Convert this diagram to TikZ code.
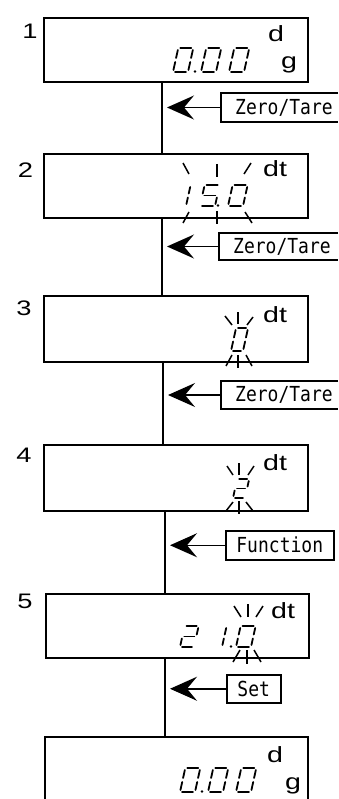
\documentclass[tikz,border=0pt]{standalone}
\usepackage{fontspec}
\setmainfont{Liberation Sans}
\newfontfamily\keyfont{DejaVu Sans Mono}
\usetikzlibrary{arrows.meta}
\newcommand\SSw{14}
\newcommand\SSh{23}
\newcommand\SSs{0.22}
\newcommand\SSline[6]{\draw[segl] ({#1+(#3)+\SSs*(#4)},{#2-(#4)}) -- ({#1+(#5)+\SSs*(#6)},{#2-(#6)});}
\newcommand\SSa[2]{\SSline{#1}{#2}{2}{\SSh}{\SSw-2}{\SSh}}
\newcommand\SSb[2]{\SSline{#1}{#2}{\SSw}{\SSh-2}{\SSw}{\SSh/2+2}}
\newcommand\SSc[2]{\SSline{#1}{#2}{\SSw}{\SSh/2-2}{\SSw}{2}}
\newcommand\SSd[2]{\SSline{#1}{#2}{2}{0}{\SSw-2}{0}}
\newcommand\SSe[2]{\SSline{#1}{#2}{0}{2}{0}{\SSh/2-2}}
\newcommand\SSf[2]{\SSline{#1}{#2}{0}{\SSh/2+2}{0}{\SSh-2}}
\newcommand\SSg[2]{\SSline{#1}{#2}{2}{\SSh/2}{\SSw-2}{\SSh/2}}
\newcommand\SSdigit[3]{\foreach \q in {#3}{\csname SS\q\endcsname{#1}{#2}}}
\newcommand\SSdot[2]{\fill (#1,#2) circle (1.4pt);}
\newcommand\KeyTxt[1]{\scalebox{1}[1.15]{#1}}
\newcommand\WideTxt[1]{\scalebox{1.3}[1]{#1}}
\tikzset{
  disp/.style={draw, line width=2.1pt, rectangle, inner sep=0pt, anchor=north west},
  conn/.style={line width=1.5pt},
  keytext/.style={inner ysep=0pt, font=\keyfont\fontsize{18}{18}\selectfont},
  keyline/.style={line width=1.5pt},
  arr/.style={line width=1.5pt, -{Stealth[length=27pt,width=24pt,inset=10pt]}},
  steplabel/.style={font=\fontsize{21}{21}\selectfont, inner sep=0pt},
  unit/.style={font=\fontsize{22}{22}\selectfont, inner sep=0pt, anchor=base west},
  segl/.style={line width=1.8pt, line cap=round},
  ray/.style={line width=1.5pt},
}
\begin{document}
\begin{tikzpicture}[x=1pt,y=-1pt]
\useasboundingbox (0,0) rectangle (338,799);
\fill[white] (0,0) rectangle (338,799);
% display boxes
\node[disp, minimum width=264pt, minimum height=64pt] (b1) at (43,17) {};
\node[disp, minimum width=264pt, minimum height=64pt] (b2) at (43,153) {};
\node[disp, minimum width=264pt, minimum height=66pt] (b3) at (43,295) {};
\node[disp, minimum width=264pt, minimum height=66pt] (b4) at (43,444) {};
\node[disp, minimum width=263pt, minimum height=64pt] (b5) at (45,593) {};
\node[inner sep=0pt, anchor=north west, minimum width=263pt, minimum height=62pt] (b6) at (45,737) {};
\draw[line width=2.1pt] (b6.south west) -- (b6.north west) -- (b6.north east) -- (b6.south east);
% step labels
\node[steplabel] (n1) at (30,31.5) {\WideTxt{1}};
\node[steplabel] (n2) at (25.5,170) {\WideTxt{2}};
\node[steplabel] (n3) at (24,308.5) {\WideTxt{3}};
\node[steplabel] (n4) at (24,455) {\WideTxt{4}};
\node[steplabel] (n5) at (25,601.5) {\WideTxt{5}};
% units
\node[unit] (u1) at (268,42) {\WideTxt{d}};
\node[unit] (g1) at (281,69) {\WideTxt{g}};
\node[unit] (u2) at (263,177) {\WideTxt{dt}};
\node[unit] (u3) at (263,322) {\WideTxt{dt}};
\node[unit] (u4) at (263,470) {\WideTxt{dt}};
\node[unit] (u5) at (271,618) {\WideTxt{dt}};
\node[unit] (u6) at (267,762) {\WideTxt{d}};
\node[unit] (g6) at (285,789) {\WideTxt{g}};
% connectors
\coordinate (c1) at (162,0);
\coordinate (c2) at (162,0);
\coordinate (c3) at (163,0);
\coordinate (c4) at (165,0);
\coordinate (c5) at (165,0);
\coordinate (edge) at (338,0);
\draw[conn] (b1.south -| c1) -- (b2.north -| c1);
\draw[conn] (b2.south -| c2) -- (b3.north -| c2);
\draw[conn] (b3.south -| c3) -- (b4.north -| c3);
\draw[conn] (b4.south -| c4) -- (b5.north -| c4);
\draw[conn] (b5.south -| c5) -- (b6.north -| c5);
% keys
\node[keytext, anchor=west, inner xsep=14pt, minimum height=29pt] (k1) at (221,107.5) {\KeyTxt{Zero/Tare}};
\draw[keyline] (edge |- k1.north) -- (k1.north west) -- (k1.south west) -- (edge |- k1.south);
\node[keytext, anchor=west, inner xsep=14pt, minimum height=27pt] (k2) at (219,246.5) {\KeyTxt{Zero/Tare}};
\draw[keyline] (edge |- k2.north) -- (k2.north west) -- (k2.south west) -- (edge |- k2.south);
\node[keytext, anchor=west, inner xsep=14pt, minimum height=28pt] (k3) at (221,395) {\KeyTxt{Zero/Tare}};
\draw[keyline] (edge |- k3.north) -- (k3.north west) -- (k3.south west) -- (edge |- k3.south);
\node[keytext, draw, line width=1.5pt, anchor=north west, minimum width=108pt, minimum height=29pt] (k4) at (225,530) {\KeyTxt{Function}};
\node[keytext, draw, line width=1.5pt, anchor=north west, minimum width=54pt, minimum height=28pt] (k5) at (226,674) {\KeyTxt{Set}};
\draw[arr] (k1.west) -- ([xshift=5pt]k1.west -| c1);
\draw[arr] (k2.west) -- ([xshift=5pt]k2.west -| c2);
\draw[arr] (k3.west) -- ([xshift=5pt]k3.west -| c3);
\draw[arr] (k4.west) -- ([xshift=5pt]k4.west -| c4);
\draw[arr] (k5.west) -- ([xshift=5pt]k5.west -| c5);
% box 1 digits 0.00
\renewcommand\SSw{15}\renewcommand\SSh{24}
\SSdigit{173}{72}{a,b,c,d,e,f}
\SSdot{195}{71.5}
\SSdigit{201}{72}{a,b,c,d,e,f}
\SSdigit{229}{72}{a,b,c,d,e,f}
% box 6 digits 0.00
\SSdigit{180}{792}{a,b,c,d,e,f}
\SSdot{202}{791.5}
\SSdigit{208}{792}{a,b,c,d,e,f}
\SSdigit{236}{792}{a,b,c,d,e,f}
% box 2 digits 15.0
\renewcommand\SSw{15}\renewcommand\SSh{21}
\SSdigit{171}{206}{b,c}
\SSdigit{200}{206}{a,f,g,c,d}
\SSdot{218}{205.5}
\SSdigit{228}{206}{a,b,c,d,e,f}
\draw[ray] (183,163) -- (189,174);
\draw[ray] (217,164) -- (217,177);
\draw[ray] (251,163) -- (244,174);
\draw[ray] (189,212) -- (183,223);
\draw[ray] (217,211) -- (217,224);
\draw[ray] (245,212) -- (252,223);
% box 3 digit 0
\renewcommand\SSw{12}\renewcommand\SSh{23}
\SSdigit{231}{351}{a,b,c,d,e,f}
\draw[ray] (225,316) -- (232,325);
\draw[ray] (238,312) -- (238,324);
\draw[ray] (253,317) -- (247,325);
\draw[ray] (232,355) -- (226,366);
\draw[ray] (238,355) -- (238,368);
\draw[ray] (246,355) -- (252,366);
% box 4 digit 2
\renewcommand\SSw{12}\renewcommand\SSh{19}
\SSdigit{233}{498}{a,b,g,e,d}
\draw[ray] (227,466) -- (233,475);
\draw[ray] (239,463) -- (239,475);
\draw[ray] (254,466) -- (248,475);
\draw[ray] (233,502) -- (226,511);
\draw[ray] (239,501) -- (239,514);
\draw[ray] (246,502) -- (253,511);
% box 5 digits 2 1.0
\renewcommand\SSw{14}\renewcommand\SSh{21}
\SSdigit{180}{647}{a,b,g,e,d}
\SSdigit{208}{647}{b,c}
\SSdot{231}{646.5}
\renewcommand\SSw{15}
\SSdigit{236}{647}{a,b,c,d,e,f}
\draw[ray] (234,606) -- (241,617);
\draw[ray] (248,604) -- (248,617);
\draw[ray] (263,606) -- (256,617);
\draw[ray] (240,650) -- (233,662);
\draw[ray] (247,650) -- (247,664);
\draw[ray] (254,650) -- (261,662);
\end{tikzpicture}
\end{document}
